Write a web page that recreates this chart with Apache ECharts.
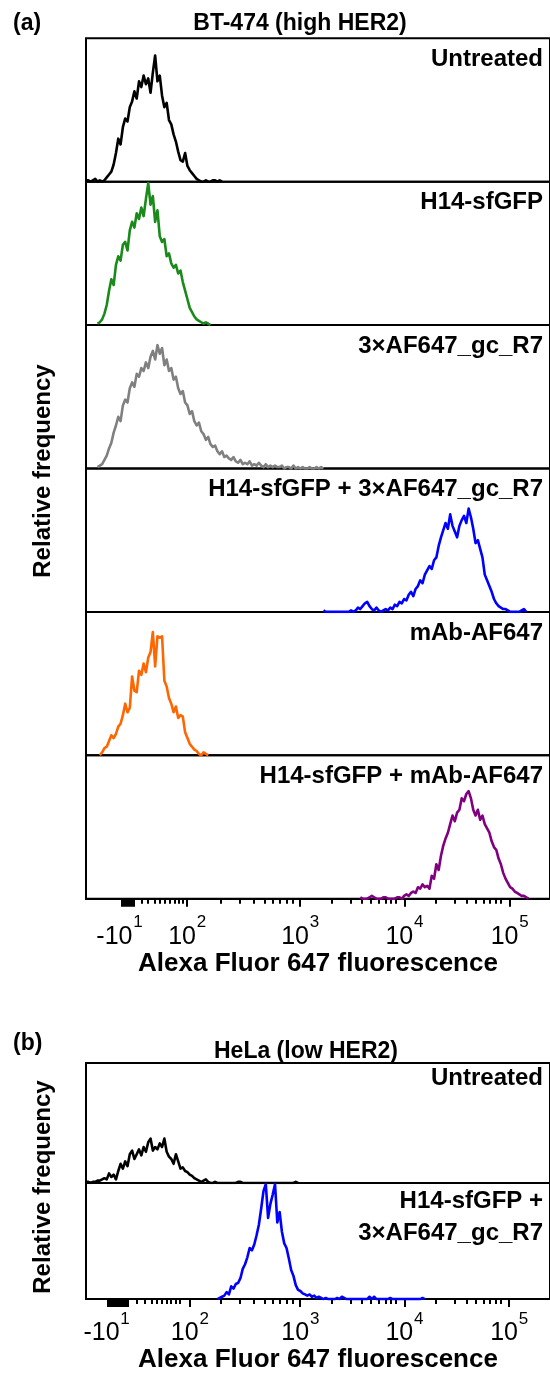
<!DOCTYPE html>
<html>
<head>
<meta charset="utf-8">
<script src="https://cdn.jsdelivr.net/npm/echarts@6/dist/echarts.min.js"></script>
<style>html,body{margin:0;padding:0;background:#fff;}#c{width:550px;height:1374px;}</style>
</head>
<body>
<div id="c"></div>
<script>
// ---- Data: histogram counts (relative frequency, % of panel height), uniform bins on the biexponential display scale (channels) ----
const STEP = 5;
// Panel (a) BT-474
const startUntreatedA = 0;
const untreatedA = [1,1,0,1,2,0,1,0,1,3,5,7,12,20,30,26,38,44,42,52,56,63,58,70,66,74,68,72,62,76,88,70,74,60,52,55,43,40,33,28,21,15,14,20,11,8,6,4,2,1,0,0,1,0,0,1,1,0,1,0];
const startGfpA = 25;
const gfpA = [1,2,4,8,14,24,32,28,42,48,45,56,58,52,66,72,68,78,74,82,76,88,99,84,90,72,80,62,58,60,48,50,43,40,42,36,38,30,24,18,12,9,6,4,3,2,1,2,1,0];
const startProbeA = 25;
const probeA = [1,2,3,6,9,14,18,25,30,36,33,44,48,46,56,60,57,66,64,70,68,74,70,78,82,76,86,80,84,72,76,68,70,62,64,56,52,54,46,44,38,40,33,30,32,26,24,20,22,17,15,16,12,10,12,8,9,7,6,8,5,4,6,3,4,3,5,2,3,2,4,2,1,3,1,2,1,2,1,1,2,0,1,1,0,2,0,1,0,1,0,0,1,0,0,1,0,1,0];
const startGfpProbeA = 515;
const gfpProbeA = [1,0,0,0,0,0,0,0,0,0,0,0,1,0,1,3,2,4,6,7,4,2,1,3,1,0,1,2,1,3,2,5,4,7,6,9,8,12,14,11,16,18,22,20,26,29,32,30,36,38,46,52,57,62,58,68,60,56,52,60,64,67,62,72,66,58,48,50,44,38,26,22,18,14,9,6,4,3,2,2,1,0,0,0,0,0,1,2,0];
const startMabA = 30;
const mabA = [0,2,5,6,10,14,12,15,20,22,28,36,30,33,55,45,44,59,56,64,58,68,72,86,62,83,82,83,52,48,40,36,30,34,26,28,27,16,12,8,6,4,3,1,0,2,1,0];
const startGfpMabA = 595;
const gfpMabA = [1,0,0,0,1,2,1,0,0,0,1,1,0,0,0,0,1,1,0,2,3,2,4,5,4,8,7,10,8,9,7,16,14,24,20,30,37,42,46,52,58,54,60,62,70,68,73,75,70,62,58,62,55,58,52,49,46,40,36,34,28,24,18,14,11,8,7,5,4,3,2,2,1,0];
// Panel (b) HeLa
const startUntreatedB = 0;
const untreatedB = [1,1,0,1,1,2,2,3,4,3,8,5,7,3,10,16,12,18,14,24,27,20,24,28,23,30,26,34,37,27,30,28,33,30,37,26,22,20,16,24,18,12,13,10,9,7,6,4,3,2,1,2,3,1,0,0,1,0,0,0,0,0,0,0,0,0,1,1,0,0,0,0,0,0,0,0,0,0,0,0,0,0,0,0,0,0,0,0,0,0,0,1,0];
const startGfpProbeB = 285;
const gfpProbeB = [0,1,2,3,6,4,11,9,13,14,18,26,30,36,44,42,47,55,64,78,93,99,70,82,90,99,66,75,58,48,44,35,25,20,12,8,7,5,4,3,4,2,3,1,2,1,0,1,0,0,0,0,1,0,2,1,0,0,0,0,0,0,0,0,0,0,2,0,2,0,0,0,0,0,0,1,0,0,0,0,0,0,0,0,0,0,0,0,0,1,0];

// ---- Axis: display channels; decade tick positions ----
const XMAX = 1006.5;
const majorTicksA = [77.9,80,82.3,84.4,86.6,88.8,90.9,93,95.2,97.4,99.6,102.8,219.3,464.3,690.5,918.8];
const minorTicksA = [120.6,134.8,149.4,160.2,171,181.8,192.6,201.3,210.6,292.2,333.3,363.6,387.4,405.4,419.9,434.4,448.7,534,573.6,598.9,618.4,634.2,649.4,661.7,672.5,759.1,800.2,825.3,845.7,862.1,876,889,899.8];
const labelValsA = [72.5,219.3,464.3,690.5,918.8];
const majorTicksB = [47.6,50.5,53.3,56.2,59.1,62,64.9,67.7,70.6,73.5,76.4,79.2,82.1,85,87.9,90.9,225.1,464.7,690.5,917.7];
const minorTicksB = [109.7,127.7,142.2,153,163.9,174.7,184,194.2,203.5,292.2,333.3,363.6,387.4,405.4,419.9,434.4,448.7,534,573.6,598.9,618.4,634.2,649.4,661.7,672.5,759.1,800.2,825.3,845.7,862.1,876,889,899.8];
const labelValsB = [44.4,225.1,464.7,690.5,917.7];
const tickBase = ['-10','10','10','10','10'];
const tickSup = ['1','2','3','4','5'];

const FONT = '"Liberation Sans", Arial, Helvetica, sans-serif';

const panelsA = [
  {vals: untreatedA, start: startUntreatedA, color: '#000000', label: 'Untreated'},
  {vals: gfpA, start: startGfpA, color: '#1a8a1a', label: 'H14-sfGFP'},
  {vals: probeA, start: startProbeA, color: '#808080', label: '3×AF647_gc_R7'},
  {vals: gfpProbeA, start: startGfpProbeA, color: '#0000ff', label: 'H14-sfGFP + 3×AF647_gc_R7'},
  {vals: mabA, start: startMabA, color: '#ff6600', label: 'mAb-AF647'},
  {vals: gfpMabA, start: startGfpMabA, color: '#800080', label: 'H14-sfGFP + mAb-AF647'}
];
const panelsB = [
  {vals: untreatedB, start: startUntreatedB, color: '#000000', label: 'Untreated'},
  {vals: gfpProbeB, start: startGfpProbeB, color: '#0000ff', label: 'H14-sfGFP +\n3×AF647_gc_R7'}
];

const grids = [], xAxes = [], yAxes = [], series = [], graphics = [];

// superscript labels: exponent on a short first line, shifted right; base on second line
function labelFormatter(labelVals) {
  return function (v) {
    const i = labelVals.findIndex(x => Math.abs(x - v) < 1e-6);
    if (i < 0) return '';
    const supStyle = tickBase[i].length > 2 ? 'sl' : 's';
    return '{' + supStyle + '|' + tickSup[i] + '}\n{b|' + tickBase[i] + '}';
  };
}
const richLabel = {
  b: {fontSize: 25, fontFamily: FONT, color: '#000', lineHeight: 25, padding: [0, 10, 0, 0]},
  s: {fontSize: 17, fontFamily: FONT, color: '#000', lineHeight: 4, padding: [0, 0, 0, 29]},
  sl: {fontSize: 17, fontFamily: FONT, color: '#000', lineHeight: 4, padding: [0, 0, 0, 37]}
};

function addGroup(panels, top, h, majors, minors, labelVals, lblMargin, nameGap) {
  panels.forEach((p, k) => {
    const g = grids.length;
    grids.push({left: 86, top: top + k * h, width: 465, height: h, show: true,
      borderColor: '#000', borderWidth: 2, backgroundColor: 'transparent', containLabel: false});
    const isBottom = k === panels.length - 1;
    const xi = xAxes.length;
    if (isBottom) {
      xAxes.push({gridIndex: g, type: 'value', min: 0, max: XMAX, position: 'bottom',
        axisLine: {show: true, onZero: false, lineStyle: {color: '#000', width: 2}},
        axisTick: {show: true, customValues: majors, length: 8, lineStyle: {color: '#000', width: 2}},
        axisLabel: {show: true, customValues: labelVals, margin: lblMargin, formatter: labelFormatter(labelVals),
          align: 'center', rich: richLabel},
        splitLine: {show: false},
        name: 'Alexa Fluor 647 fluorescence', nameLocation: 'middle', nameGap: nameGap,
        nameTextStyle: {fontSize: 26, fontWeight: 'bold', fontFamily: FONT, color: '#000'}
      });
      xAxes.push({gridIndex: g, type: 'value', min: 0, max: XMAX, position: 'bottom',
        axisLine: {show: false}, axisLabel: {show: false}, splitLine: {show: false},
        axisTick: {show: true, customValues: minors, length: 5, lineStyle: {color: '#000', width: 2}}});
    } else {
      xAxes.push({gridIndex: g, type: 'value', min: 0, max: XMAX, show: false, splitLine: {show: false}});
    }
    yAxes.push({gridIndex: g, type: 'value', min: 0, max: 100, show: false, splitLine: {show: false}});
    series.push({type: 'line', xAxisIndex: xi, yAxisIndex: g, showSymbol: false, symbol: 'none',
      animation: false, silent: true, clip: true,
      lineStyle: {color: p.color, width: 2.6, join: 'round'}, itemStyle: {color: p.color},
      data: p.vals.map((v, i) => [p.start + i * STEP, v])});
  });
}

addGroup(panelsA, 38.3, 143.4, majorTicksA, minorTicksA, labelValsA, 22, 51.5);
addGroup(panelsB, 1063, 120, majorTicksB, minorTicksB, labelValsB, 18, 47);

function txt(text, x, y, size, align, rot, lh) {
  return {type: 'text', x: x, y: y, rotation: rot || 0, silent: true,
    style: {text: text, fill: '#000', font: 'bold ' + size + 'px ' + FONT,
      textAlign: align, textVerticalAlign: 'middle', align: align, verticalAlign: 'middle',
      lineHeight: lh || size}};
}
graphics.push(txt('(a)', 13, 24, 23, 'left'));
graphics.push(txt('BT-474 (high HER2)', 300, 24, 23, 'center'));
panelsA.forEach((p, k) => graphics.push(txt(p.label, 543, 38.3 + k * 143.4 + 21, 24, 'right')));
graphics.push(txt('Relative frequency', 43, 471, 24, 'center', Math.PI / 2));
graphics.push(txt('(b)', 13, 1044, 23, 'left'));
graphics.push(txt('HeLa (low HER2)', 306, 1052, 23, 'center'));
graphics.push(txt(panelsB[0].label, 543, 1078, 24, 'right'));
graphics.push(txt(panelsB[1].label, 543, 1217, 24, 'right', 0, 32));
graphics.push(txt('Relative frequency', 43, 1187, 24, 'center', Math.PI / 2));

const chart = echarts.init(document.getElementById('c'), null, {renderer: 'canvas'});
chart.setOption({
  animation: false,
  backgroundColor: '#ffffff',
  grid: grids, xAxis: xAxes, yAxis: yAxes, series: series,
  graphic: {elements: graphics}
});
</script>
</body>
</html>
